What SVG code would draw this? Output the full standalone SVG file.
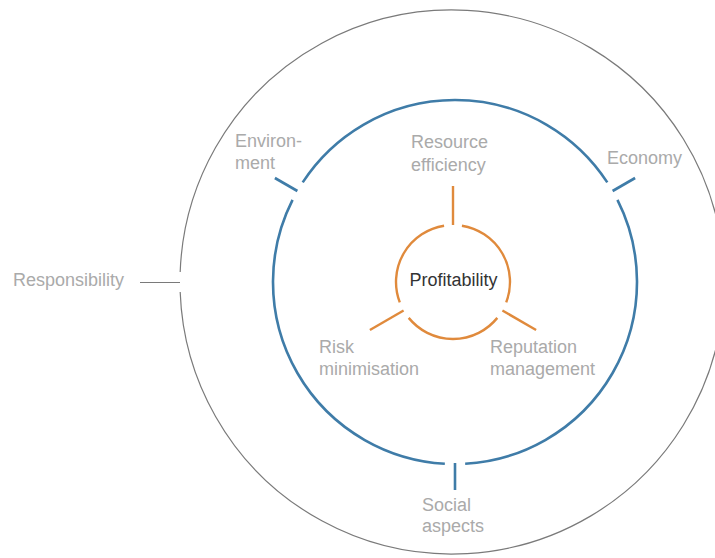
<svg xmlns="http://www.w3.org/2000/svg" width="715" height="558" viewBox="0 0 715 558">
<style>
.lbl{font-family:"Liberation Sans",Arial,sans-serif;font-size:18px;fill:#aaaaaa}
.main{font-family:"Liberation Sans",Arial,sans-serif;font-size:18px;fill:#333333}
.outer{fill:none;stroke:#7a7a7a;stroke-width:1.2}
.blue{fill:none;stroke:#3f7ca8;stroke-width:2.6}
.orange{fill:none;stroke:#e08a3c;stroke-width:2.4}
</style>
<rect width="715" height="558" fill="#ffffff"/>
<g id="connectors">
  <line class="outer" x1="140" y1="282.5" x2="180" y2="282.5"/>
  <line class="blue" x1="297.4" y1="191" x2="274.9" y2="178"/>
  <line class="blue" x1="612.6" y1="191" x2="635.1" y2="178"/>
  <line class="blue" x1="455" y1="463" x2="455" y2="490"/>
  <line class="orange" x1="453" y1="225" x2="453" y2="186"/>
  <line class="orange" x1="502.4" y1="310.5" x2="536.1" y2="330"/>
  <line class="orange" x1="403.6" y1="310.5" x2="369.9" y2="330"/>
</g>
<g id="responsibility">
  <path class="outer" d="M 180.18 272.03 A 272 272 0 1 1 180.18 291.97"/>
  <text class="lbl" x="13" y="285.5">Responsibility</text>
</g>
<g id="sustainability-ring">
  <path class="blue" d="M 444.84 463.72 A 182 182 0 0 1 292.55 199.94"/>
  <path class="blue" d="M 302.7 182.34 A 182 182 0 0 1 607.3 182.34"/>
  <path class="blue" d="M 617.45 199.94 A 182 182 0 0 1 465.16 463.72"/>
</g>
<g id="environment">
  <text class="lbl" x="235" y="147">Environ-</text>
  <text class="lbl" x="235" y="168.5">ment</text>
</g>
<g id="economy">
  <text class="lbl" x="607" y="163.5">Economy</text>
</g>
<g id="social">
  <text class="lbl" x="422" y="511">Social</text>
  <text class="lbl" x="422" y="532">aspects</text>
</g>
<g id="profitability">
  <path class="orange" d="M 461.92 225.7 A 57 57 0 0 1 506.21 302.43"/>
  <path class="orange" d="M 497.3 317.87 A 57 57 0 0 1 408.7 317.87"/>
  <path class="orange" d="M 399.79 302.43 A 57 57 0 0 1 444.08 225.7"/>
  <text class="main" x="409.5" y="286">Profitability</text>
</g>
<g id="resource-efficiency">
  <text class="lbl" x="411" y="148">Resource</text>
  <text class="lbl" x="411" y="171">efficiency</text>
</g>
<g id="risk-minimisation">
  <text class="lbl" x="319" y="353">Risk</text>
  <text class="lbl" x="319" y="375">minimisation</text>
</g>
<g id="reputation-management">
  <text class="lbl" x="490" y="353">Reputation</text>
  <text class="lbl" x="490" y="375">management</text>
</g>
</svg>
